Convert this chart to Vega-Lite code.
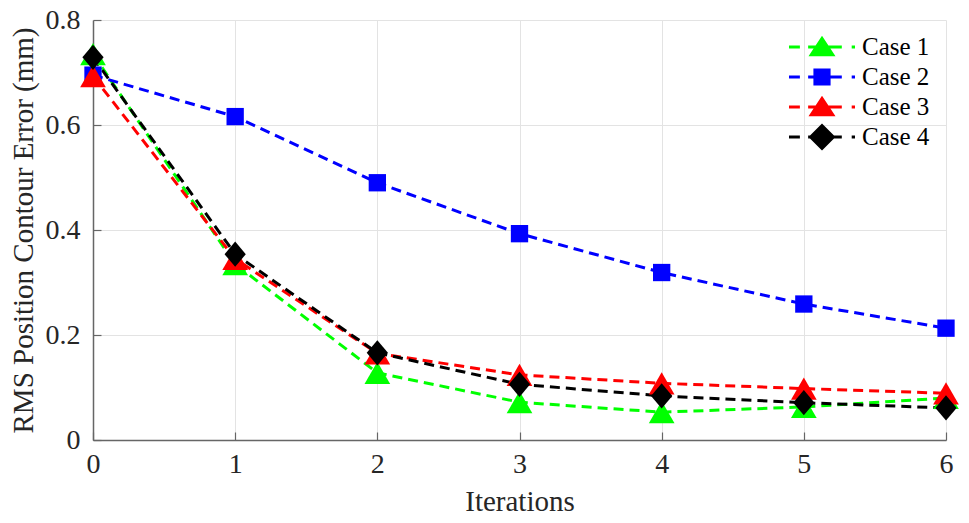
{
  "$schema": "https://vega.github.io/schema/vega-lite/v6.json",
  "description": "RMS position contour error over iterations",
  "width": 853,
  "height": 420,
  "autosize": {"type": "none"},
  "padding": {"left": 93, "top": 20, "right": 23, "bottom": 83},
  "background": "white",
  "data": {
    "values": [
      {"it": 0, "case": "Case 1", "rms": 0.735},
      {"it": 1, "case": "Case 1", "rms": 0.335},
      {"it": 2, "case": "Case 1", "rms": 0.128},
      {"it": 3, "case": "Case 1", "rms": 0.072},
      {"it": 4, "case": "Case 1", "rms": 0.053},
      {"it": 5, "case": "Case 1", "rms": 0.063},
      {"it": 6, "case": "Case 1", "rms": 0.08},
      {"it": 0, "case": "Case 2", "rms": 0.695},
      {"it": 1, "case": "Case 2", "rms": 0.616},
      {"it": 2, "case": "Case 2", "rms": 0.49},
      {"it": 3, "case": "Case 2", "rms": 0.393},
      {"it": 4, "case": "Case 2", "rms": 0.319},
      {"it": 5, "case": "Case 2", "rms": 0.259},
      {"it": 6, "case": "Case 2", "rms": 0.213},
      {"it": 0, "case": "Case 3", "rms": 0.693},
      {"it": 1, "case": "Case 3", "rms": 0.345},
      {"it": 2, "case": "Case 3", "rms": 0.165},
      {"it": 3, "case": "Case 3", "rms": 0.124},
      {"it": 4, "case": "Case 3", "rms": 0.108},
      {"it": 5, "case": "Case 3", "rms": 0.098},
      {"it": 6, "case": "Case 3", "rms": 0.089},
      {"it": 0, "case": "Case 4", "rms": 0.729},
      {"it": 1, "case": "Case 4", "rms": 0.354},
      {"it": 2, "case": "Case 4", "rms": 0.166},
      {"it": 3, "case": "Case 4", "rms": 0.106},
      {"it": 4, "case": "Case 4", "rms": 0.084},
      {"it": 5, "case": "Case 4", "rms": 0.071},
      {"it": 6, "case": "Case 4", "rms": 0.061}
    ]
  },
  "encoding": {
    "x": {
      "field": "it",
      "type": "quantitative",
      "scale": {"domain": [0, 6], "nice": false, "zero": false},
      "axis": {
        "title": "Iterations",
        "values": [0, 1, 2, 3, 4, 5, 6],
        "tickSize": -8,
        "labelPadding": 18,
        "titlePadding": 9
      }
    },
    "y": {
      "field": "rms",
      "type": "quantitative",
      "scale": {"domain": [0, 0.8], "nice": false},
      "axis": {
        "title": "RMS Position Contour Error (mm)",
        "values": [0, 0.2, 0.4, 0.6, 0.8],
        "format": ".1~f",
        "tickSize": -8,
        "labelPadding": 21,
        "titlePadding": 7
      }
    }
  },
  "layer": [
    {
      "mark": {"type": "line", "strokeWidth": 3, "strokeDash": [10, 6]},
      "encoding": {
        "color": {
          "field": "case",
          "type": "nominal",
          "scale": {"domain": ["Case 1", "Case 2", "Case 3", "Case 4"], "range": ["#00ff00", "#0000ff", "#ff0000", "#000000"]},
          "legend": null
        }
      }
    },
    {
      "mark": {"type": "point", "filled": true, "opacity": 1, "strokeWidth": 0},
      "encoding": {
        "color": {
          "field": "case",
          "type": "nominal",
          "scale": {"domain": ["Case 1", "Case 2", "Case 3", "Case 4"], "range": ["#00ff00", "#0000ff", "#ff0000", "#000000"]},
          "legend": null
        },
        "shape": {
          "field": "case",
          "type": "nominal",
          "scale": {
            "domain": ["Case 1", "Case 2", "Case 3", "Case 4"],
            "range": ["triangle-up", "square", "triangle-up", "M0,-1L0.84,0L0,1L-0.84,0Z"]
          },
          "legend": null
        },
        "size": {
          "field": "case",
          "type": "nominal",
          "scale": {"type": "ordinal", "domain": ["Case 1", "Case 2", "Case 3", "Case 4"], "range": [660, 300, 660, 640]},
          "legend": null
        }
      }
    },
    {
      "transform": [{"filter": "false"}],
      "mark": {"type": "point", "filled": true, "opacity": 1, "strokeWidth": 0},
      "encoding": {
        "color": {
          "field": "case",
          "type": "nominal",
          "scale": {"domain": ["Case 1", "Case 2", "Case 3", "Case 4"], "range": ["#00ff00", "#0000ff", "#ff0000", "#000000"]},
          "legend": {"title": null, "orient": "none", "legendX": 715.5, "legendY": 13.5}
        },
        "shape": {
          "field": "case",
          "type": "nominal",
          "scale": {
            "domain": ["Case 1", "Case 2", "Case 3", "Case 4"],
            "range": [
              "M-2.444,-0.11H-1.638V0.11H-2.444Z M-1.027,-0.11H1.467V0.11H-1.027Z M2.2,-0.11H2.444V0.11H2.2Z M0,-0.831L1,0.684L-1,0.684Z",
              "M-2.444,-0.11H-1.638V0.11H-2.444Z M-1.027,-0.11H1.467V0.11H-1.027Z M2.2,-0.11H2.444V0.11H2.2Z M-0.636,-0.636H0.636V0.636H-0.636Z",
              "M-2.444,-0.11H-1.638V0.11H-2.444Z M-1.027,-0.11H1.467V0.11H-1.027Z M2.2,-0.11H2.444V0.11H2.2Z M0,-0.831L1,0.684L-1,0.684Z",
              "M-2.444,-0.11H-1.638V0.11H-2.444Z M-1.027,-0.11H1.467V0.11H-1.027Z M2.2,-0.11H2.444V0.11H2.2Z M0,-1L1,0L0,1L-1,0Z"
            ]
          },
          "legend": {"title": null, "orient": "none", "legendX": 715.5, "legendY": 13.5}
        }
      }
    }
  ],
  "resolve": {"scale": {"color": "independent", "shape": "independent"}},
  "config": {
    "font": "Liberation Serif",
    "view": {"stroke": null},
    "axis": {
      "labelFont": "Liberation Serif",
      "titleFont": "Liberation Serif",
      "labelFontSize": 28,
      "titleFontSize": 29,
      "titleFontWeight": "normal",
      "labelColor": "#262626",
      "titleColor": "#262626",
      "domainColor": "#666666",
      "domainWidth": 1.5,
      "tickColor": "#666666",
      "tickWidth": 1.2,
      "gridColor": "#e3e3e3",
      "gridWidth": 1,
      "labelFlush": false
    },
    "legend": {
      "labelFont": "Liberation Serif",
      "labelFontSize": 25,
      "labelColor": "#000000",
      "symbolSize": 729,
      "symbolStrokeWidth": 0,
      "labelOffset": 26.5,
      "rowPadding": 3,
      "padding": 0
    }
  }
}
